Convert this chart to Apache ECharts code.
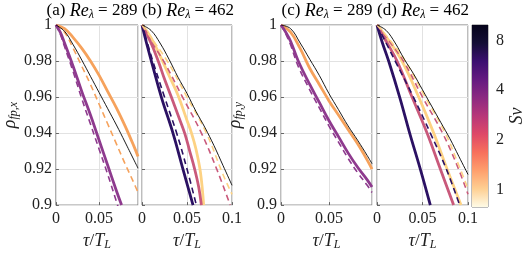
<!DOCTYPE html>
<html><head><meta charset="utf-8">
<script src="https://cdn.jsdelivr.net/npm/echarts@6/dist/echarts.min.js"></script>
<style>html,body{margin:0;padding:0;background:#fff}#c{width:532px;height:256px}</style>
</head><body><div id="c"></div>
<script>
// ---------- data ----------
const yMin = 0.9, yMax = 1.0, yStep = 0.02;
const xStep = 0.05;
const xMaxA = 0.095, xMaxB = 0.1, xMaxC = 0.095, xMaxD = 0.1;
const cbTicks = [1, 2, 4, 8];
const cbMin = 0.79, cbMax = 9.9;

// Panel (a) Re=289, x-component
const a_blk_tau = [0,0.01,0.02,0.03,0.04,0.05,0.06,0.07,0.08,0.095];
const a_blk_rho = [1,0.9965,0.989,0.9805,0.9715,0.9625,0.9535,0.9445,0.935,0.9205];
const a_or_tau  = [0,0.01,0.02,0.03,0.04,0.05,0.06,0.07,0.08,0.09,0.095];
const a_or_rho  = [1,0.998,0.993,0.987,0.98,0.972,0.963,0.954,0.944,0.933,0.927];
const a_ord_rho = [1,0.996,0.987,0.977,0.967,0.956,0.945,0.934,0.923,0.9125,0.907];
const a_pu_tau  = [0,0.005,0.01,0.02,0.03,0.04,0.05,0.06,0.07,0.076];
const a_pu_rho  = [1,0.996,0.99,0.977,0.963,0.95,0.936,0.922,0.908,0.9];
const a_pud_tau = [0,0.005,0.01,0.02,0.03,0.04,0.05,0.06,0.07,0.072];
const a_pud_rho = [1,0.995,0.988,0.974,0.959,0.945,0.931,0.917,0.902,0.899];

// Panel (b) Re=462, x-component
const b_blk_tau = [0,0.01,0.02,0.03,0.04,0.05,0.06,0.07,0.08,0.09,0.1];
const b_blk_rho = [1,0.997,0.99,0.981,0.971,0.962,0.952,0.943,0.933,0.922,0.911];
const b_ye_tau  = [0,0.01,0.02,0.03,0.04,0.05,0.055,0.06,0.065,0.0685];
const b_ye_rho  = [1,0.993,0.983,0.972,0.961,0.947,0.94,0.931,0.918,0.9];
const b_pk_tau  = [0,0.01,0.018,0.025,0.0326,0.04,0.0474,0.053,0.0585,0.063,0.066];
const b_pk_rho  = [1,0.99,0.98,0.97,0.96,0.95,0.94,0.93,0.92,0.91,0.9];
const b_nv_tau  = [0,0.005,0.0104,0.0215,0.0344,0.0455,0.0567];
const b_nv_rho  = [1,0.99,0.98,0.96,0.94,0.92,0.9];
const b_nvd_tau = [0,0.006,0.012,0.025,0.0385,0.05,0.0604];
const b_nvd_rho = [1,0.99,0.98,0.96,0.94,0.92,0.9];
const b_pkd_tau = [0,0.01,0.024,0.045,0.066,0.083,0.098];
const b_pkd_rho = [1,0.991,0.98,0.96,0.94,0.92,0.9];
const b_yed_tau = [0,0.01,0.028,0.05,0.0715,0.09,0.1];
const b_yed_rho = [1,0.993,0.98,0.96,0.94,0.917,0.906];

// Panel (c) Re=289, y-component
const c_blk_tau = [0,0.01,0.02,0.03,0.04,0.05,0.06,0.07,0.08,0.09,0.095];
const c_blk_rho = [1,0.998,0.99,0.981,0.972,0.962,0.953,0.944,0.936,0.9275,0.923];
const c_or_rho  = [1,0.996,0.987,0.976,0.967,0.958,0.95,0.942,0.934,0.925,0.92];
const c_pu_tau  = [0,0.005,0.01,0.018,0.03,0.04,0.05,0.06,0.07,0.08,0.09,0.095];
const c_pu_rho  = [1,0.996,0.991,0.98,0.967,0.957,0.947,0.938,0.929,0.921,0.914,0.91];
const c_pud_rho = [1,0.995,0.989,0.977,0.964,0.954,0.944,0.935,0.926,0.918,0.911,0.907];

// Panel (d) Re=462, y-component
const d_blk_tau = [0,0.01,0.02,0.03,0.04,0.05,0.06,0.07,0.08,0.09,0.1];
const d_blk_rho = [1,0.997,0.99,0.981,0.973,0.964,0.955,0.946,0.937,0.927,0.917];
const d_nv_tau  = [0,0.006,0.0128,0.0249,0.0359,0.0476,0.0586];
const d_nv_rho  = [1,0.99,0.98,0.96,0.94,0.92,0.9];
const d_nvd_tau = [0,0.01,0.02,0.04,0.0586,0.0762,0.0908];
const d_nvd_rho = [1,0.99,0.98,0.96,0.94,0.92,0.9];
const d_pk_tau  = [0,0.01,0.022,0.0385,0.055,0.0696,0.0842];
const d_pk_rho  = [1,0.991,0.98,0.96,0.94,0.92,0.9];
const d_ye_tau  = [0,0.012,0.0275,0.0458,0.0623,0.077,0.0923];
const d_ye_rho  = [1,0.992,0.98,0.96,0.94,0.92,0.9];
const d_pkd_tau = [0,0.012,0.029,0.05,0.072,0.088,0.1];
const d_pkd_rho = [1,0.992,0.98,0.96,0.94,0.922,0.906];
const d_yed_tau = [0,0.012,0.031,0.053,0.075,0.09,0.1];
const d_yed_rho = [1,0.993,0.98,0.96,0.94,0.922,0.909];

// ---------- styling ----------
const C = {navy:'#2b1163', purple:'#8e3a8e', pink:'#c9597b', orange:'#f6a25c', yellow:'#fdd283', black:'#000'};
const FONT = '"Liberation Serif", "DejaVu Serif", serif';
const FS = 16;
const rich = {
  n:{fontFamily:FONT, fontSize:FS+1, color:'#222', lineHeight:20},
  i:{fontFamily:FONT, fontSize:FS+2, fontStyle:'italic', color:'#222', lineHeight:20},
  s:{fontFamily:FONT, fontSize:12, fontStyle:'italic', color:'#222', lineHeight:12, verticalAlign:'bottom'}
};
const zip = (t, r) => t.map((v, k) => [v, r[k]]);

const grids = [
  {left:47, top:25, width:91, height:182},
  {left:142, top:25, width:90, height:182},
  {left:281, top:25, width:91, height:182},
  {left:377, top:25, width:91, height:182},
  {left:472, top:25, width:16, height:182}
];
const xMaxes = [xMaxA, xMaxB, xMaxC, xMaxD];
const yNames = ['{i|ρ}{s|fp,x}', '', '{i|ρ}{s|fp,y}', ''];

const xAxes = [], yAxes = [];
for (let g = 0; g < 4; g++) {
  xAxes.push({
    type:'value', gridIndex:g, min:0, max:xMaxes[g], interval:xStep,
    axisLine:{show:false},
    axisTick:{show:true, inside:true, length:3, lineStyle:{color:'#666'}},
    axisLabel:{fontFamily:FONT, fontSize:FS, color:'#222', margin:6, showMaxLabel: xMaxes[g] >= 0.1},
    splitLine:{show:true, lineStyle:{color:'#e2e2e2', width:1}},
    name:'{i|τ}{n|/}{i|T}{s|L}', nameLocation:'middle', nameGap:23,
    nameTextStyle:{rich}
  });
  yAxes.push({
    type:'value', gridIndex:g, min:yMin, max:yMax, interval:yStep,
    axisLine:{show:false},
    axisTick:{show:true, inside:true, length:3, lineStyle:{color:'#666'}},
    axisLabel:{show: g % 2 === 0, fontFamily:FONT, fontSize:FS, color:'#222', margin:4},
    splitLine:{show:true, lineStyle:{color:'#e2e2e2', width:1}},
    name: yNames[g], nameLocation:'middle', nameGap:33, nameRotate:90,
    nameTextStyle:{rich}
  });
}
// colorbar axes
xAxes.push({type:'category', gridIndex:4, data:['cb'], show:false});
yAxes.push({type:'value', gridIndex:4, min:0, max:1, show:false});
yAxes.push({
  type:'log', logBase:2, gridIndex:4, min:cbMin, max:cbMax, position:'right',
  axisLine:{show:false},
  axisTick:{show:true, inside:true, length:3, customValues:cbTicks, lineStyle:{color:'#666'}},
  axisLabel:{customValues:cbTicks, fontFamily:FONT, fontSize:FS, color:'#222', margin:8},
  splitLine:{show:false},
  name:'{i|Sv}', nameLocation:'middle', nameGap:19, nameRotate:90,
  nameTextStyle:{rich}
});

function line(g, t, r, color, kind) {
  const w = kind === 'thick' ? 2.8 : (kind === 'dash' ? 1.6 : 0.9);
  return {
    type:'line', xAxisIndex:g, yAxisIndex:g, data:zip(t, r), symbol:'none',
    smooth:0.4, clip:true, silent:true,
    lineStyle:{color, width:w, type: kind === 'dash' ? [6,4] : 'solid'},
    z: kind === 'thin' ? 5 : 3
  };
}

const series = [
  line(0, a_or_tau, a_or_rho, C.orange, 'thick'),
  line(0, a_or_tau, a_ord_rho, C.orange, 'dash'),
  line(0, a_pu_tau, a_pu_rho, C.purple, 'thick'),
  line(0, a_pud_tau, a_pud_rho, C.purple, 'dash'),
  line(0, a_blk_tau, a_blk_rho, C.black, 'thin'),

  line(1, b_ye_tau, b_ye_rho, C.yellow, 'thick'),
  line(1, b_pk_tau, b_pk_rho, C.pink, 'thick'),
  line(1, b_nv_tau, b_nv_rho, C.navy, 'thick'),
  line(1, b_nvd_tau, b_nvd_rho, C.navy, 'dash'),
  line(1, b_pkd_tau, b_pkd_rho, C.pink, 'dash'),
  line(1, b_yed_tau, b_yed_rho, C.yellow, 'dash'),
  line(1, b_blk_tau, b_blk_rho, C.black, 'thin'),

  line(2, c_blk_tau, c_or_rho, C.orange, 'thick'),
  line(2, c_pu_tau, c_pu_rho, C.purple, 'thick'),
  line(2, c_pu_tau, c_pud_rho, C.purple, 'dash'),
  line(2, c_blk_tau, c_blk_rho, C.black, 'thin'),

  line(3, d_ye_tau, d_ye_rho, C.yellow, 'thick'),
  line(3, d_pk_tau, d_pk_rho, C.pink, 'thick'),
  line(3, d_nv_tau, d_nv_rho, C.navy, 'thick'),
  line(3, d_nvd_tau, d_nvd_rho, C.navy, 'dash'),
  line(3, d_pkd_tau, d_pkd_rho, C.pink, 'dash'),
  line(3, d_yed_tau, d_yed_rho, C.yellow, 'dash'),
  line(3, d_blk_tau, d_blk_rho, C.black, 'thin'),

  {
    type:'bar', xAxisIndex:4, yAxisIndex:4, data:[1], barWidth:'100%', silent:true,
    itemStyle:{color:new echarts.graphic.LinearGradient(0,1,0,0,[
      {offset:0, color:'#fefbe6'}, {offset:0.1, color:'#fecf92'}, {offset:0.2, color:'#fe9f6d'},
      {offset:0.3, color:'#f7705c'}, {offset:0.4, color:'#de4968'}, {offset:0.5, color:'#b73779'},
      {offset:0.6, color:'#8c2981'}, {offset:0.7, color:'#641a80'}, {offset:0.8, color:'#3b0f70'},
      {offset:0.9, color:'#140e36'}, {offset:1, color:'#05031a'}
    ])}
  }
];

const titles = [
  {x:92, text:'{n|(a) }{i|Re}{s|λ}{n| = 289}'},
  {x:188, text:'{n|(b) }{i|Re}{s|λ}{n| = 462}'},
  {x:327, text:'{n|(c) }{i|Re}{s|λ}{n| = 289}'},
  {x:423, text:'{n|(d) }{i|Re}{s|λ}{n| = 462}'}
];

const chart = echarts.init(document.getElementById('c'), null, {renderer:'canvas'});
chart.setOption({
  animation:false,
  backgroundColor:'#fff',
  grid: grids.map(g => Object.assign({show:true, borderColor:'#7a7a7a', borderWidth:1, backgroundColor:'transparent', containLabel:false}, g)),
  xAxis: xAxes,
  yAxis: yAxes,
  series,
  graphic: titles.map(t => ({
    type:'text', x:t.x, y:1, z:10,
    style:{text:t.text, rich, align:'center', verticalAlign:'top'}
  }))
});
</script>
</body></html>
